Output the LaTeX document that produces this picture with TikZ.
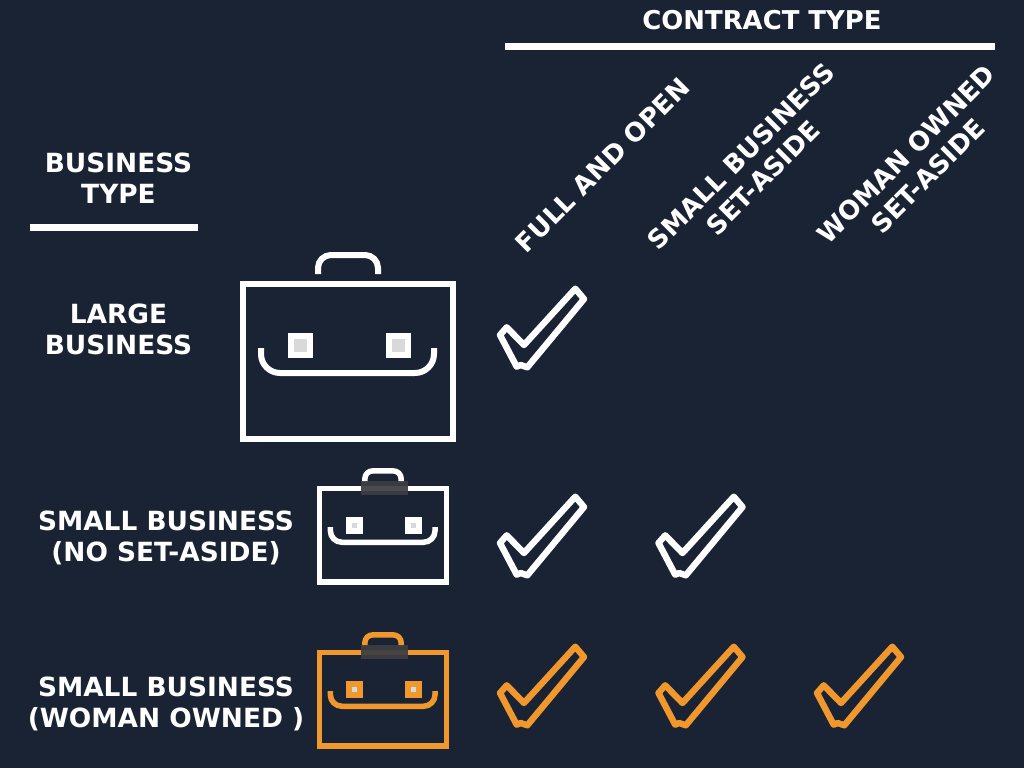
\documentclass[tikz,border=0pt]{standalone}
\usepackage{fontspec}
\setmainfont{DejaVu Sans}
\usetikzlibrary{positioning}
\definecolor{bgcol}{HTML}{1A2333}
\definecolor{orangecol}{HTML}{F0982E}
\definecolor{innercol}{HTML}{D9D9D9}
\definecolor{shadecol}{HTML}{3D3D42}
\tikzset{
  label/.style={text=white,font=\fontsize{26.5}{31}\selectfont\bfseries,align=center,inner sep=0pt},
  headlabel/.style={label,font=\fontsize{26}{31}\selectfont\bfseries},
  rulebar/.style={fill=white,draw=none},
}
% center x, center y, scale, line width, colour, inner square size, outer square size
\newcommand{\drawcase}[7]{%
\begin{scope}[shift={(#1,#2)},scale=#3,draw=#5,line width=#4]
  \draw (-104.7,-77) rectangle (104.7,78);
  \draw [line cap=butt,rounded corners=#3*13bp] (-30,-87) -- (-30,-106) -- (30,-106) -- (30,-87);
  \draw [line cap=butt,rounded corners=#3*19bp] (-87,-13) -- (-87,12) -- (86,12) -- (86,-13);
  \foreach \sx in {-47.5,50.5} {
    \fill [#5] (\sx-#7/2,-16-#7/2) rectangle (\sx+#7/2,-16+#7/2);
    \fill [innercol] (\sx-#6/2,-16-#6/2) rectangle (\sx+#6/2,-16+#6/2);
  }
\end{scope}}
% left offset, top offset, colour
\newcommand{\drawcheck}[3]{%
  \draw [shift={(#1,#2)},#3,line width=6.4bp,line join=round]
    (575.3,288.7) -- (584,299) -- (527.3,367.3) -- (520.7,365) -- (516.7,366.7)
    -- (500,335) -- (506.7,327.3) -- (524,345) -- cycle;}
\begin{document}
\begin{tikzpicture}[x=1bp,y=-1bp]
  \useasboundingbox [fill=bgcol] (0,0) rectangle (1024,768);
  % Headers
  \node [headlabel] (contract) at (762,20) {CONTRACT TYPE};
  \fill [rulebar] (505,43) rectangle (995,50);
  \node [label] (business) at (118.5,178) {BUSINESS\\TYPE};
  \fill [rulebar] (30,224) rectangle (198,231);
  % Column labels
  \node [headlabel,rotate=45] (fullopen) at (602.5,165) {FULL AND OPEN};
  \node [headlabel,rotate=45] (smallaside) at (752,167) {SMALL BUSINESS\\SET-ASIDE};
  \node [headlabel,rotate=45] (womanaside) at (917,165) {WOMAN OWNED\\SET-ASIDE};
  % Row labels
  \node [label] (large) at (118.5,329) {LARGE\\BUSINESS};
  \node [label] (small) at (166,538) {SMALL BUSINESS\\(NO SET-ASIDE)};
  \node [label] (woman) at (166,704) {SMALL BUSINESS\\(WOMAN OWNED )};
  % Cases
  \drawcase{348}{361}{1}{6bp}{white}{13}{25}
  \drawcase{383}{535}{.605}{5.5bp}{white}{8}{28}
  \fill [shadecol,opacity=.93] (361,481) rectangle (408,495);
  \drawcase{383}{699}{.605}{5.5bp}{orangecol}{8}{28}
  \fill [shadecol,opacity=.93] (361,645) rectangle (408,659);
  % Checks
  \drawcheck{0}{0}{white}
  \drawcheck{0}{208}{white}
  \drawcheck{158.5}{208}{white}
  \drawcheck{0}{358}{orangecol}
  \drawcheck{158.5}{358}{orangecol}
  \drawcheck{317}{358}{orangecol}
\end{tikzpicture}
\end{document}
